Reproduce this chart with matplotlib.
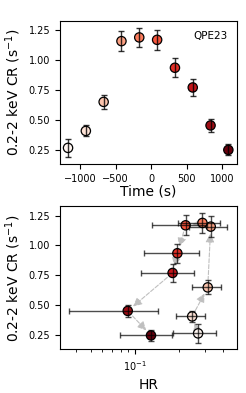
import numpy as np
import matplotlib.pyplot as plt

# light curve of the eruption
time = [-1172, -921, -670, -419, -168, 84, 335, 586, 837, 1088]
rate = [0.264, 0.406, 0.649, 1.158, 1.189, 1.169, 0.935, 0.770, 0.452, 0.247]
rate_err = [0.077, 0.046, 0.059, 0.085, 0.082, 0.084, 0.078, 0.074, 0.053, 0.046]

# hardness ratio for the same bins
hr = [0.270, 0.246, 0.314, 0.329, 0.289, 0.222, 0.195, 0.181, 0.0896, 0.129]
hr_err = [0.087, 0.054, 0.070, 0.094, 0.091, 0.090, 0.080, 0.071, 0.054, 0.050]

label = "QPE23"
rate_ticks = [0.25, 0.50, 0.75, 1.00, 1.25]

cols = plt.cm.Reds(np.linspace(0, 1, len(time)))

fig = plt.figure(figsize=(2.46, 3.93), dpi=100)
ax1 = fig.add_axes([0.244, 0.583, 0.718, 0.364])
ax2 = fig.add_axes([0.244, 0.111, 0.718, 0.364])

# top: count rate vs time
ax1.errorbar(time, rate, yerr=rate_err, fmt='none', ecolor='k', alpha=0.8,
             elinewidth=1, capsize=2.5, zorder=3)
ax1.scatter(time, rate, c=cols, s=45, edgecolors='k', linewidths=0.9, zorder=2)
ax1.text(0.95, 0.93, label, transform=ax1.transAxes, ha='right', va='top', fontsize=7.5)
ax1.set_xlim(-1285, 1205)
ax1.set_xlabel("Time (s)", fontsize=10, labelpad=1)

# bottom: count rate vs hardness ratio
for i in range(len(hr) - 1):
    ax2.annotate("", xy=(hr[i + 1], rate[i + 1]), xytext=(hr[i], rate[i]),
                 arrowprops=dict(arrowstyle='-|>', color='0.75', ls='--', lw=0.8,
                                 shrinkA=5, shrinkB=5, mutation_scale=13),
                 zorder=1)
ax2.errorbar(hr, rate, xerr=hr_err, yerr=rate_err, fmt='none', ecolor='k', alpha=0.7,
             elinewidth=1, capsize=2.5, zorder=3)
ax2.scatter(hr, rate, c=cols, s=45, edgecolors='k', linewidths=0.9, zorder=2)
ax2.set_xscale('log')
ax2.set_xlim(0.031, 0.494)
ax2.set_xlabel("HR", fontsize=10)

for ax in [ax1, ax2]:
    ax.set_ylim(0.13, 1.328)
    ax.set_yticks(rate_ticks)
    ax.set_ylabel("0.2-2 keV CR (s$^{-1}$)", fontsize=10)
    ax.tick_params(labelsize=7)

plt.savefig("out.png", dpi=100)
plt.close()
